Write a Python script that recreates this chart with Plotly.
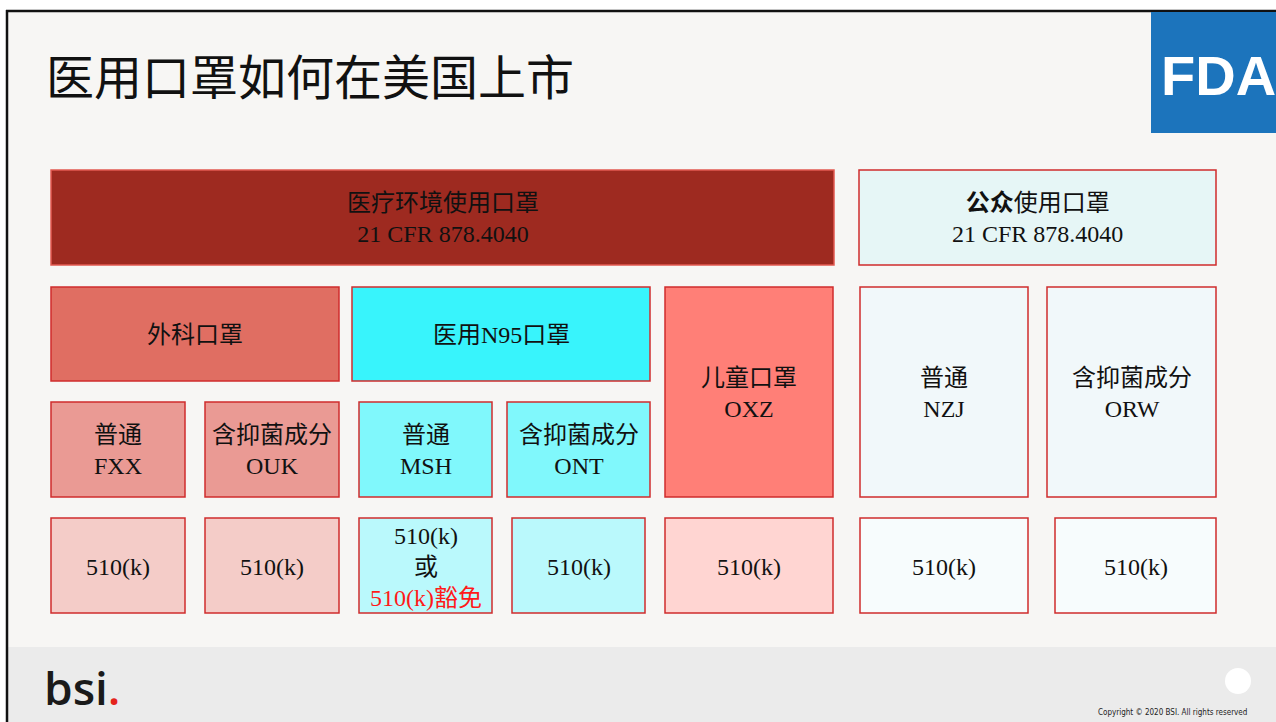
import plotly.graph_objects as go

# ---- content ----
title_text = "医用口罩如何在美国上市"
box_labels = [
    "医疗环境使用口罩<br>21 CFR 878.4040",
    "<b>公众</b>使用口罩<br>21 CFR 878.4040",
    "外科口罩",
    "医用N95口罩",
    "儿童口罩<br>OXZ",
    "普通<br>NZJ",
    "含抑菌成分<br>ORW",
    "普通<br>FXX",
    "含抑菌成分<br>OUK",
    "普通<br>MSH",
    "含抑菌成分<br>ONT",
    "510(k)",
    "510(k)",
    "510(k)<br>或<br><span style='color:#FF1A1A'>510(k)豁免</span>",
    "510(k)",
    "510(k)",
    "510(k)",
    "510(k)",
]

# ---- layout geometry (pixels) ----
box_geom = [
    (51, 834, 170, 265),
    (859, 1216, 170, 265),
    (51, 339, 287, 381),
    (352, 650, 287, 381),
    (665, 833, 287, 497),
    (860, 1028, 287, 497),
    (1047, 1216, 287, 497),
    (51, 185, 402, 497),
    (205, 339, 402, 497),
    (359, 492, 402, 497),
    (507, 650, 402, 497),
    (51, 185, 518, 613),
    (205, 339, 518, 613),
    (359, 492, 518, 613),
    (512, 645, 518, 613),
    (665, 833, 518, 613),
    (860, 1028, 518, 613),
    (1055, 1216, 518, 613),
]
box_fill = [
    "#9E2A20", "#E6F6F6", "#E06E62", "#38F4FC", "#FF7F77", "#F1F8FA", "#F1F8FA",
    "#EA9A94", "#EA9A94", "#80F8FC", "#80F8FC",
    "#F4CCC8", "#F4CCC8", "#BAF9FC", "#BAF9FC", "#FFD5D2", "#F7FCFD", "#F7FCFD",
]
box_line = ["#E25A50"] + ["#D02C2C"] * 17

fig = go.Figure()

shapes = []
# slide background & frame
shapes.append(dict(type="rect", x0=0, x1=1276, y0=0, y1=722, fillcolor="white", line_width=0, layer="below"))
shapes.append(dict(type="rect", x0=7, x1=1276, y0=11, y1=722, fillcolor="#F7F6F4", line_width=0, layer="below"))
shapes.append(dict(type="rect", x0=7, x1=1276, y0=647, y1=722, fillcolor="#EBEBEB", line_width=0, layer="below"))
shapes.append(dict(type="line", x0=6, x1=1276, y0=11, y1=11, line=dict(color="#111111", width=2.5)))
shapes.append(dict(type="line", x0=7, x1=7, y0=10, y1=722, line=dict(color="#111111", width=2.5)))
# FDA logo block
shapes.append(dict(type="rect", x0=1151, x1=1276, y0=12, y1=133, fillcolor="#1C74BC", line_width=0))
# white circle
shapes.append(dict(type="circle", x0=1225, x1=1251, y0=668, y1=694, fillcolor="white", line_width=0))

for (x0, x1, y0, y1), fc, lc in zip(box_geom, box_fill, box_line):
    shapes.append(dict(type="rect", x0=x0, x1=x1, y0=y0, y1=y1, fillcolor=fc,
                       line=dict(color=lc, width=1.5)))

annotations = []
serif = "Liberation Serif, Times New Roman, Noto Sans CJK SC"
for (x0, x1, y0, y1), lab in zip(box_geom, box_labels):
    annotations.append(dict(x=(x0 + x1) / 2, y=(y0 + y1) / 2 + 1, text=lab, showarrow=False,
                            xanchor="center", yanchor="middle", align="center",
                            font=dict(family=serif, size=24, color="#111111")))

annotations.append(dict(x=44, y=74, text=title_text, showarrow=False, xanchor="left", yanchor="middle",
                        font=dict(family="Noto Sans CJK SC", size=48, color="#111111")))
annotations.append(dict(x=1159, y=75, text="<b>FDA</b>", showarrow=False, xanchor="left", yanchor="middle",
                        font=dict(family="Liberation Sans, Arial", size=56, color="white")))
annotations.append(dict(x=42, y=687, text="bsi<span style='color:#E4231B'>.</span>", showarrow=False,
                        xanchor="left", yanchor="middle",
                        font=dict(family="Open Sans, Noto Sans", size=46, color="#1A1A1A", weight=600)))
annotations.append(dict(x=1249, y=712, text="Copyright © 2020 BSI. All rights reserved", showarrow=False,
                        xanchor="right", yanchor="middle",
                        font=dict(family="DejaVu Sans Condensed, Liberation Sans", size=8, color="#222222")))

fig.update_layout(
    width=1276, height=722,
    margin=dict(l=0, r=0, t=0, b=0),
    paper_bgcolor="white", plot_bgcolor="white",
    xaxis=dict(range=[0, 1276], visible=False, fixedrange=True),
    yaxis=dict(range=[722, 0], visible=False, fixedrange=True),
    shapes=shapes, annotations=annotations, showlegend=False,
)

fig.write_html("out.html", config={"displayModeBar": False})
